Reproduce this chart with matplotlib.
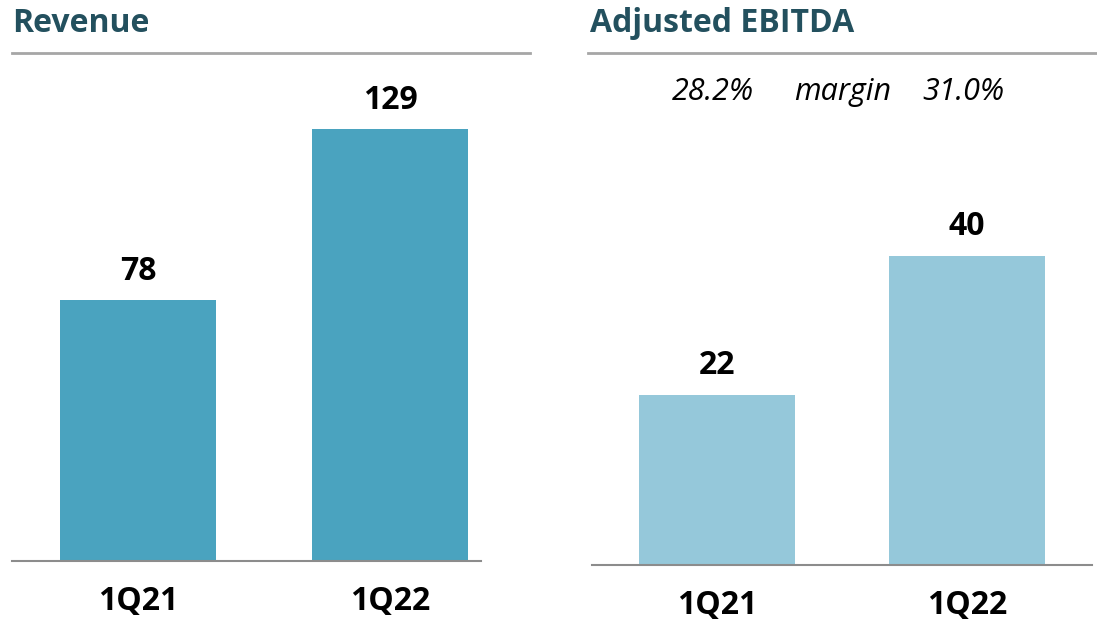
import matplotlib
matplotlib.use('Agg')
from matplotlib import pyplot as plt
from matplotlib.lines import Line2D

periods = ['1Q21', '1Q22']
revenue = [78, 129]
ebitda = [22, 40]
margins = ['28.2%', '31.0%']

W, H = 1097, 628
title_color = '#23505e'
rev_color = '#4aa3bf'
ebitda_color = '#95c8da'

plt.rcParams['font.family'] = ['Open Sans', 'DejaVu Sans']


def px_axes(fig, x0, x1, ybase, ytop):
    return fig.add_axes([x0 / W, 1 - ybase / H, (x1 - x0) / W, (ybase - ytop) / H])


def draw_panel(ax, values, color, ymax, xlim, width):
    x = range(len(values))
    bars = ax.bar(x, values, width=width, color=color, zorder=2)
    ax.set_ylim(0, ymax)
    ax.set_xlim(*xlim)
    for b, v in zip(bars, values):
        ax.annotate(str(v), (b.get_x() + b.get_width() / 2, v), xytext=(0, 9),
                    textcoords='offset points', ha='center', va='bottom',
                    fontsize=23, fontweight='bold', color='black')
    ax.set_xticks(list(x))
    ax.set_xticklabels(periods, fontsize=23, fontweight='bold')
    ax.tick_params(axis='x', length=0, pad=17)
    ax.set_yticks([])
    for s in ['top', 'right', 'left']:
        ax.spines[s].set_visible(False)
    ax.spines['bottom'].set_color('#8c8c8c')
    ax.spines['bottom'].set_linewidth(1.5)


def main():
    fig = plt.figure(figsize=(W / 100, H / 100), dpi=100)

    ax1 = px_axes(fig, 12, 481, 561, 60)
    draw_panel(ax1, revenue, rev_color, 501 / 3.346, (-0.5, 1.361), 0.619)

    ax2 = px_axes(fig, 592, 1092, 565, 60)
    draw_panel(ax2, ebitda, ebitda_color, 505 / 7.73, (-0.5, 1.5), 0.624)

    # panel titles with grey rules
    fig.text(12 / W, 1 - 24 / H, 'Revenue', fontsize=23, fontweight='bold',
             color=title_color, va='center', ha='left')
    fig.text(590 / W, 1 - 24 / H, 'Adjusted EBITDA', fontsize=23, fontweight='bold',
             color=title_color, va='center', ha='left')
    fig.add_artist(Line2D([12 / W, 530 / W], [1 - 53 / H, 1 - 53 / H],
                          color='#a6a6a6', lw=2))
    fig.add_artist(Line2D([588 / W, 1097 / W], [1 - 53 / H, 1 - 53 / H],
                          color='#a6a6a6', lw=2))

    # margin row
    fig.text(713 / W, 1 - 92 / H, margins[0], fontsize=22, style='italic',
             ha='center', va='center')
    fig.text(843 / W, 1 - 92 / H, 'margin', fontsize=22, style='italic',
             ha='center', va='center')
    fig.text(963 / W, 1 - 92 / H, margins[1], fontsize=22, style='italic',
             ha='center', va='center')

    fig.savefig('out.png', dpi=100)


if __name__ == '__main__':
    main()
